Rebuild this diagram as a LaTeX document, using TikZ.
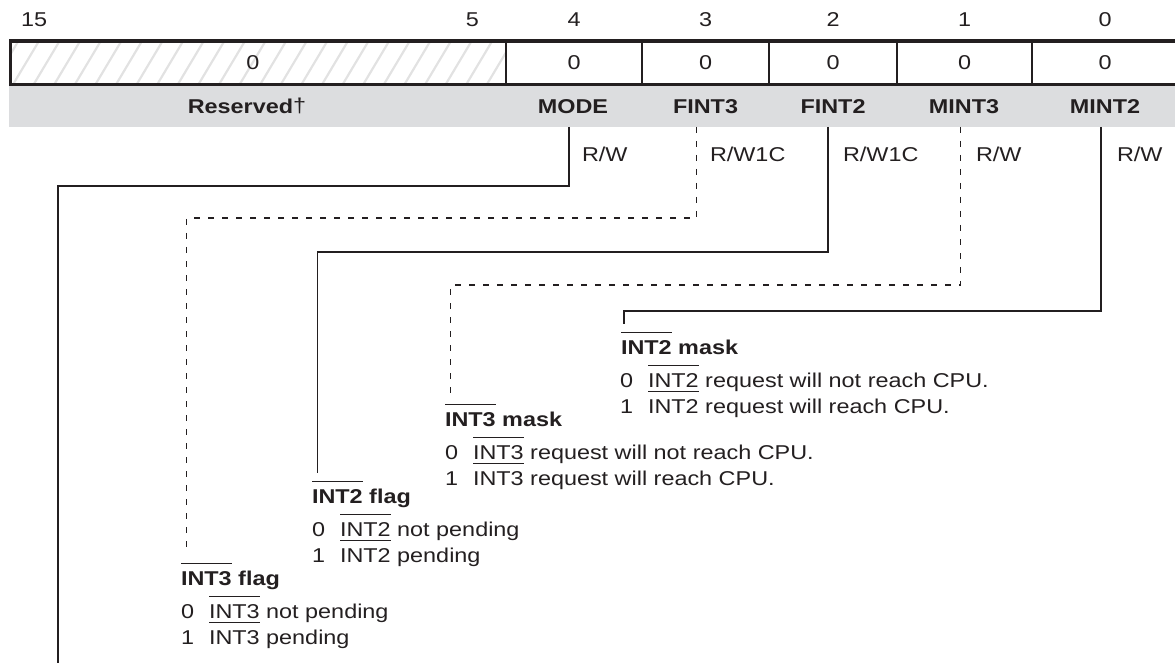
\documentclass[tikz,border=0pt]{standalone}
\usepackage{fontspec}
\setmainfont{Liberation Sans}[FakeStretch=1.17]
\definecolor{ink}{HTML}{231F20}
\definecolor{band}{HTML}{DCDDDF}
\definecolor{hatchc}{HTML}{E2E2E2}
\newsavebox\ovlbox
\newcommand\ovl[1]{\sbox\ovlbox{#1}\rlap{\rule[20.8pt]{\wd\ovlbox}{1.6pt}}\usebox\ovlbox}
\newcommand\bitv[1]{\makebox[28pt][l]{#1}}
\begin{document}
\begin{tikzpicture}[x=1pt,y=-1pt,
  every node/.style={inner sep=0pt,outer sep=0pt,font=\fontsize{20}{24}\selectfont,text=ink},
  lbl/.style={font=\fontsize{20}{24}\selectfont\bfseries,anchor=base},
  num/.style={anchor=base},
  acc/.style={anchor=base west},
  desc/.style={anchor=base west},
  head/.style={anchor=base west,font=\fontsize{20}{24}\selectfont\bfseries},
  conn/.style={draw=ink,line width=1.4pt},
  dconn/.style={draw=ink,line width=1.2pt,dash pattern=on 6pt off 8pt},
  reg/.style={draw=ink,line width=3.5pt},
  divider/.style={draw=ink,line width=2pt}]
\useasboundingbox (0,0) rectangle (1175,663);
% label band
\fill[band] (8.5,86.5) rectangle (1178,127);
% hatch of reserved field
\begin{scope}
\clip (10.5,41) rectangle (506,84.5);
\foreach \i in {-3,...,25}
  \draw[hatchc,line width=2.2pt] (13+20.6*\i,84.5) -- ++(26,-43.5);
\end{scope}
% register box
\draw[reg] (10.5,41) rectangle (1178,84.5);
\foreach \x in {506,642,769,897,1032}
  \draw[divider] (\x,41) -- (\x,84.5);
% bit numbers
\node[anchor=base west] (b15) at (21,27) {15};
\node[anchor=base east] (b5) at (479,27) {5};
\node[num] (b4) at (574,27) {4};
\node[num] (b3) at (705.5,27) {3};
\node[num] (b2) at (833,27) {2};
\node[num] (b1) at (964.5,27) {1};
\node[num] (b0) at (1105,27) {0};
% values
\node[num] (vRes) at (253,70) {0};
\node[num] (v4) at (574,70) {0};
\node[num] (v3) at (705.5,70) {0};
\node[num] (v2) at (833,70) {0};
\node[num] (v1) at (964.5,70) {0};
\node[num] (v0) at (1105,70) {0};
% field names
\node[lbl] (lRes) at (247,114) {Reserved{\normalfont\raisebox{1pt}{†}}};
\node[lbl] (lMODE) at (573,114) {MODE};
\node[lbl] (lFINT3) at (705.5,114) {FINT3};
\node[lbl] (lFINT2) at (833,114) {FINT2};
\node[lbl] (lMINT3) at (964,114) {MINT3};
\node[lbl] (lMINT2) at (1105,114) {MINT2};
% access types
\node[acc] (aMODE) at (582,161.5) {R/W};
\node[acc] (aFINT3) at (710,161.5) {R/W1C};
\node[acc] (aFINT2) at (843,161.5) {R/W1C};
\node[acc] (aMINT3) at (976,161.5) {R/W};
\node[acc] (aMINT2) at (1117,161.5) {R/W};
% descriptions
\node[head] (hMINT2) at (621,354) {\ovl{INT2} mask};
\node[desc] (dMINT2a) at (620,387) {\bitv{0}\ovl{INT2} request will not reach CPU.};
\node[desc] (dMINT2b) at (620,413) {\bitv{1}\ovl{INT2} request will reach CPU.};
\node[head] (hMINT3) at (445,426) {\ovl{INT3} mask};
\node[desc] (dMINT3a) at (445,459) {\bitv{0}\ovl{INT3} request will not reach CPU.};
\node[desc] (dMINT3b) at (445,485) {\bitv{1}\ovl{INT3} request will reach CPU.};
\node[head] (hFINT2) at (312,503) {\ovl{INT2} flag};
\node[desc] (dFINT2a) at (312,536) {\bitv{0}\ovl{INT2} not pending};
\node[desc] (dFINT2b) at (312,562) {\bitv{1}\ovl{INT2} pending};
\node[head] (hFINT3) at (181,585) {\ovl{INT3} flag};
\node[desc] (dFINT3a) at (181,618) {\bitv{0}\ovl{INT3} not pending};
\node[desc] (dFINT3b) at (181,644) {\bitv{1}\ovl{INT3} pending};
% connector coordinates
\coordinate (sMODE) at (569,127);   \coordinate (kMODE) at (58,186);   \coordinate (eMODE) at (58,665);
\coordinate (sFINT3) at (696.5,127); \coordinate (kFINT3) at (186.5,218); \coordinate (eFINT3) at (186.5,550);
\coordinate (sFINT2) at (828,127);  \coordinate (kFINT2) at (317.5,252); \coordinate (eFINT2) at (317.5,473);
\coordinate (sMINT3) at (960.5,127); \coordinate (kMINT3) at (450.5,285); \coordinate (eMINT3) at (450.5,397);
\coordinate (sMINT2) at (1101,127); \coordinate (kMINT2) at (624,311);   \coordinate (eMINT2) at (624,324);
% connectors
\draw[conn] (sMODE) |- (kMODE) -- (eMODE);
\draw[dconn] (sFINT3) |- (kFINT3) -- (eFINT3);
\draw[conn] (sFINT2) |- (kFINT2) -- (eFINT2);
\draw[dconn] (sMINT3) |- (kMINT3) -- (eMINT3);
\draw[conn] (sMINT2) |- (kMINT2) -- (eMINT2);
\end{tikzpicture}
\end{document}
